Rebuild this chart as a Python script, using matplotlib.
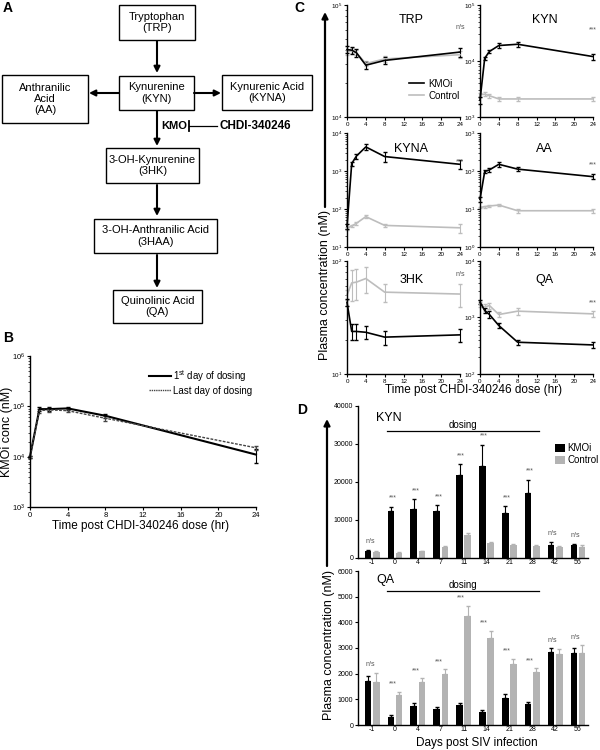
import matplotlib
matplotlib.use("Agg")
import matplotlib.pyplot as plt
from matplotlib.patches import Rectangle
from matplotlib.lines import Line2D
from matplotlib.ticker import LogLocator, NullFormatter
import numpy as np

plt.rcParams['font.family'] = ['Liberation Sans', 'DejaVu Sans']
plt.rcParams['mathtext.default'] = 'regular'

# ---- panel B: KMOi plasma PK ----
pk_time = [0, 1, 2, 4, 8, 24]
pk_first = [1.0e4, 8.8e4, 8.8e4, 9.1e4, 6.5e4, 1.1e4]
pk_first_err = [500, 8000, 8000, 6000, 6000, 3500]
pk_last = [1.0e4, 8.2e4, 8.5e4, 8.2e4, 5.8e4, 1.5e4]
pk_last_err = [500, 7000, 7000, 6000, 6000, 1500]

# ---- panel C: metabolites after single dose ----
c_time = [0, 1, 2, 4, 8, 24]
c_names = ["TRP", "KYN", "KYNA", "AA", "3HK", "QA"]
c_sig = ["n/s", "***", "***", "***", "n/s", "***"]
c_ylims = [(1e4, 1e5), (1e3, 1e5), (1e1, 1e4), (1e0, 1e3), (1e1, 1e2), (1e2, 1e4)]
trp_kmo = [4.0e4, 3.95e4, 3.75e4, 2.9e4, 3.2e4, 3.8e4]
trp_kmo_err = [3000, 3000, 3000, 2000, 2500, 3500]
trp_ctl = [3.8e4, 3.9e4, 3.75e4, 3.0e4, 3.3e4, 3.6e4]
trp_ctl_err = [2000, 2000, 2000, 1500, 2000, 2500]
kyn_kmo = [2000, 1.12e4, 1.48e4, 1.89e4, 1.99e4, 1.2e4]
kyn_kmo_err = [300, 800, 1000, 2000, 2000, 1500]
kyn_ctl = [2500, 2550, 2400, 2100, 2100, 2100]
kyn_ctl_err = [200, 200, 200, 200, 150, 150]
kyna_kmo = [35, 1570, 2470, 4300, 2400, 1500]
kyna_kmo_err = [5, 200, 400, 800, 700, 400]
kyna_ctl = [31, 36, 42, 63, 37, 32]
kyna_ctl_err = [3, 3, 4, 6, 4, 8]
aa_kmo = [18, 97, 107, 150, 112, 71]
aa_kmo_err = [3, 8, 10, 20, 12, 10]
aa_ctl = [11, 11.5, 12, 12.7, 9, 9]
aa_ctl_err = [0.5, 0.8, 1, 1, 1, 1]
hk3_kmo = [43, 23.8, 23.8, 23.4, 21.2, 22.2]
hk3_kmo_err = [3, 4, 4, 3, 3, 3]
hk3_ctl = [50, 64, 65, 70, 53, 51]
hk3_ctl_err = [5, 20, 20, 18, 10, 12]
qa_kmo = [1870, 1330, 1130, 720, 365, 327]
qa_kmo_err = [150, 150, 150, 80, 40, 40]
qa_ctl = [1700, 1525, 1630, 1130, 1295, 1160]
qa_ctl_err = [150, 200, 200, 100, 200, 120]

# ---- panel D: days post SIV infection ----
days = ["-1", "0", "4", "7", "11", "14", "21", "28", "42", "56"]
d_sig = ["n/s", "***", "***", "***", "***", "***", "***", "***", "n/s", "n/s"]
kyn_d_kmo = [1900, 12250, 12950, 12250, 21800, 24100, 11800, 17100, 3500, 3300]
kyn_d_kmo_err = [200, 1300, 2500, 1600, 2900, 5700, 1800, 3400, 600, 400]
kyn_d_ctl = [1650, 1400, 1750, 3000, 6000, 4000, 3400, 3200, 2900, 3000]
kyn_d_ctl_err = [150, 150, 150, 200, 500, 300, 300, 300, 200, 500]
qa_d_kmo = [1700, 325, 750, 610, 790, 490, 1050, 805, 2845, 2790]
qa_d_kmo_err = [220, 65, 120, 105, 70, 95, 145, 75, 155, 200]
qa_d_ctl = [1675, 1170, 1660, 1990, 4250, 3380, 2380, 2080, 2765, 2790]
qa_d_ctl_err = [365, 115, 160, 180, 390, 280, 205, 130, 210, 330]

GRAY = "#bdbdbd"
W, H = 600, 750
fig = plt.figure(figsize=(6, 7.5), dpi=100)


def px_axes(x0, y0, x1, y1):
    return fig.add_axes([x0 / W, 1 - y1 / H, (x1 - x0) / W, (y1 - y0) / H])


def prism(ax, fs=5):
    for s in ["top", "right"]:
        ax.spines[s].set_visible(False)
    for s in ["left", "bottom"]:
        ax.spines[s].set_linewidth(1.0)
    ax.tick_params(labelsize=fs, length=2.5, width=0.8, pad=1)
    ax.tick_params(which="minor", length=1.5, width=0.5)


def log_y(ax, lo, hi):
    ax.set_yscale("log")
    ax.set_ylim(lo, hi)
    ax.yaxis.set_major_locator(LogLocator(base=10))
    ax.yaxis.set_minor_locator(LogLocator(base=10, subs=np.arange(2, 10), numticks=20))
    ax.yaxis.set_minor_formatter(NullFormatter())


# ---------------- panel B ----------------
axB = px_axes(30, 356, 256, 507)
axB.errorbar(pk_time, pk_first, yerr=pk_first_err, color="k", lw=1.5,
             elinewidth=0.8, capsize=1.5, clip_on=False)
axB.errorbar(pk_time, pk_last, yerr=pk_last_err, color="#444444", lw=1.0,
             ls=(0, (2, 1)), elinewidth=0.8, capsize=1.5, clip_on=False)
log_y(axB, 1e3, 1e6)
axB.set_xlim(0, 24)
axB.set_xticks(range(0, 25, 4))
prism(axB, 5.5)
hB = [Line2D([], [], color="k", lw=1.5), Line2D([], [], color="#444444", lw=1.0, ls=(0, (1, 0.6)))]
axB.legend(hB, ["1$^{st}$ day of dosing", "Last day of dosing"], loc="upper right",
           bbox_to_anchor=(1.02, 0.98), frameon=False, fontsize=7, handlelength=2.2,
           handletextpad=0.2, labelspacing=0.2)

# ---------------- panel C ----------------
c_kmo = [trp_kmo, kyn_kmo, kyna_kmo, aa_kmo, hk3_kmo, qa_kmo]
c_kmo_err = [trp_kmo_err, kyn_kmo_err, kyna_kmo_err, aa_kmo_err, hk3_kmo_err, qa_kmo_err]
c_ctl = [trp_ctl, kyn_ctl, kyna_ctl, aa_ctl, hk3_ctl, qa_ctl]
c_ctl_err = [trp_ctl_err, kyn_ctl_err, kyna_ctl_err, aa_ctl_err, hk3_ctl_err, qa_ctl_err]
c_boxes = [(347, 5, 460, 117), (480, 5, 593, 117),
           (347, 133, 460, 247), (480, 133, 593, 247),
           (347, 261, 460, 374), (480, 261, 593, 374)]
c_title_y = [0.87, 0.87, 0.86, 0.86, 0.83, 0.83]
c_sig_y = [0.8, 0.78, 0.75, 0.72, 0.88, 0.63]

for i, name in enumerate(c_names):
    ax = px_axes(*c_boxes[i])
    ax.errorbar(c_time, c_ctl[i], yerr=c_ctl_err[i], color=GRAY, lw=1.2,
                elinewidth=0.8, capsize=1.5, clip_on=False)
    ax.errorbar(c_time, c_kmo[i], yerr=c_kmo_err[i], color="k", lw=1.2,
                elinewidth=0.8, capsize=1.5, clip_on=False)
    log_y(ax, *c_ylims[i])
    ax.set_xlim(0, 24)
    ax.set_xticks(range(0, 25, 4))
    prism(ax, 4.5)
    ax.text(0.57, c_title_y[i], name, transform=ax.transAxes, ha="center",
            va="center", fontsize=9)
    ax.text(1.0, c_sig_y[i], c_sig[i], transform=ax.transAxes, ha="center",
            va="center", fontsize=5, color="#555555")
    if i == 0:
        hC = [Line2D([], [], color="k", lw=1.2), Line2D([], [], color=GRAY, lw=1.2)]
        ax.legend(hC, ["KMOi", "Control"], loc="upper left", bbox_to_anchor=(0.47, 0.42),
                  frameon=False, fontsize=7, handlelength=1.6, handletextpad=0.4,
                  labelspacing=0.2)

# ---------------- panel D ----------------
x = np.arange(len(days))
bw = 0.29
d_sets = [(kyn_d_kmo, kyn_d_kmo_err, kyn_d_ctl, kyn_d_ctl_err, "KYN", 40000, 10000, 2300),
          (qa_d_kmo, qa_d_kmo_err, qa_d_ctl, qa_d_ctl_err, "QA", 6000, 1000, 300)]
d_boxes = [(358, 406, 588, 558), (358, 571, 588, 725)]
d_line_y = [0.836, 0.872]
d_text_y = [0.872, 0.912]
d_name_y = [0.92, 0.94]
for j, (km, kme, ct, cte, name, top, step, pad) in enumerate(d_sets):
    ax = px_axes(*d_boxes[j])
    ax.bar(x - 0.18, km, bw, color="k", label="KMOi")
    ax.bar(x + 0.18, ct, bw, color="#b3b3b3", label="Control")
    ax.errorbar(x - 0.18, km, yerr=[np.zeros(len(km)), kme], fmt="none",
                ecolor="k", elinewidth=0.8, capsize=1.5)
    ax.errorbar(x + 0.18, ct, yerr=[np.zeros(len(ct)), cte], fmt="none",
                ecolor="#b3b3b3", elinewidth=0.8, capsize=1.5)
    tops = np.maximum(np.array(km) + kme, np.array(ct) + cte)
    for k in range(len(days)):
        ax.text(x[k] - 0.1, tops[k] + pad, d_sig[k], ha="center", va="center",
                fontsize=5, color="#555555")
    ax.set_xlim(-0.62, 9.44)
    ax.set_ylim(0, top)
    ax.set_yticks(np.arange(0, top + 1, step))
    ax.set_xticks(x)
    ax.set_xticklabels(days)
    prism(ax, 5)
    ax.tick_params(axis="x", length=0)
    ax.text(0.08, d_name_y[j], name, transform=ax.transAxes, ha="left", va="center", fontsize=9)
    ax.plot([0.66, 7.29], [top * d_line_y[j]] * 2, color="k", lw=0.9)
    ax.text(3.96, top * d_text_y[j], "dosing", ha="center", va="center", fontsize=7)
    if j == 0:
        ax.legend(loc="upper left", bbox_to_anchor=(0.84, 0.78), frameon=False,
                  fontsize=7, handlelength=1.0, handleheight=1.0, handletextpad=0.3,
                  labelspacing=0.2, borderaxespad=0)

# ---------------- overlay: panel A, letters, shared labels ----------------
ov = fig.add_axes([0, 0, 1, 1], facecolor="none")
ov.set_xlim(0, W)
ov.set_ylim(H, 0)
ov.axis("off")

boxes = [((119, 5, 195, 40), "Tryptophan\n(TRP)"),
         ((119, 76, 194, 110), "Kynurenine\n(KYN)"),
         ((2, 75, 88, 123), "Anthranilic\nAcid\n(AA)"),
         ((222, 75, 312, 110), "Kynurenic Acid\n(KYNA)"),
         ((106, 148, 199, 183), "3-OH-Kynurenine\n(3HK)"),
         ((94, 219, 217, 253), "3-OH-Anthranilic Acid\n(3HAA)"),
         ((113, 290, 202, 323), "Quinolinic Acid\n(QA)")]
for (x0, y0, x1, y1), txt in boxes:
    ov.add_patch(Rectangle((x0, y0), x1 - x0, y1 - y0, fill=False, lw=1.0, ec="k"))
    ov.text((x0 + x1) / 2, (y0 + y1) / 2, txt, ha="center", va="center", fontsize=8,
            linespacing=1.15)

arrows = [((157, 41), (157, 73)), ((119, 93), (89, 93)), ((194, 93), (221, 93)),
          ((157, 111), (157, 146)), ((157, 185), (157, 216)), ((157, 255), (157, 288))]
for start, end in arrows:
    ov.annotate("", xy=end, xytext=start,
                arrowprops=dict(arrowstyle="-|>", lw=1.5, color="k", mutation_scale=9,
                                shrinkA=0, shrinkB=0))
ov.text(161, 126, "KMO", fontsize=8, fontweight="bold", ha="left", va="center")
ov.plot([189, 217], [126, 126], color="k", lw=0.9)
ov.plot([189, 189], [121, 131], color="k", lw=1.3)
ov.text(219, 126, "CHDI-340246", fontsize=8.5, fontweight="bold", ha="left", va="center")

for lbl, (lx, ly) in zip("ABCD", [(3, 8), (3, 338), (294, 8), (297, 410)]):
    ov.text(lx, ly, lbl, fontsize=10, fontweight="bold", ha="left", va="center")

ov.annotate("", xy=(325, 12), xytext=(325, 207),
            arrowprops=dict(arrowstyle="-|>", lw=1.6, color="k", mutation_scale=9,
                            shrinkA=0, shrinkB=0))
ov.annotate("", xy=(327, 419), xytext=(327, 566),
            arrowprops=dict(arrowstyle="-|>", lw=1.6, color="k", mutation_scale=9,
                            shrinkA=0, shrinkB=0))
ov.text(325, 285, "Plasma concentration (nM)", rotation=90, ha="center", va="center", fontsize=9)
ov.text(329, 645, "Plasma concentration (nM)", rotation=90, ha="center", va="center", fontsize=9)
ov.text(7, 432, "KMOi conc (nM)", rotation=90, ha="center", va="center", fontsize=9)
ov.text(141, 526, "Time post CHDI-340246 dose (hr)", ha="center", va="center", fontsize=8.5)
ov.text(474, 390, "Time post CHDI-340246 dose (hr)", ha="center", va="center", fontsize=8.5)
ov.text(477, 743, "Days post SIV infection", ha="center", va="center", fontsize=8.5)

fig.savefig("out.png", dpi=100)
